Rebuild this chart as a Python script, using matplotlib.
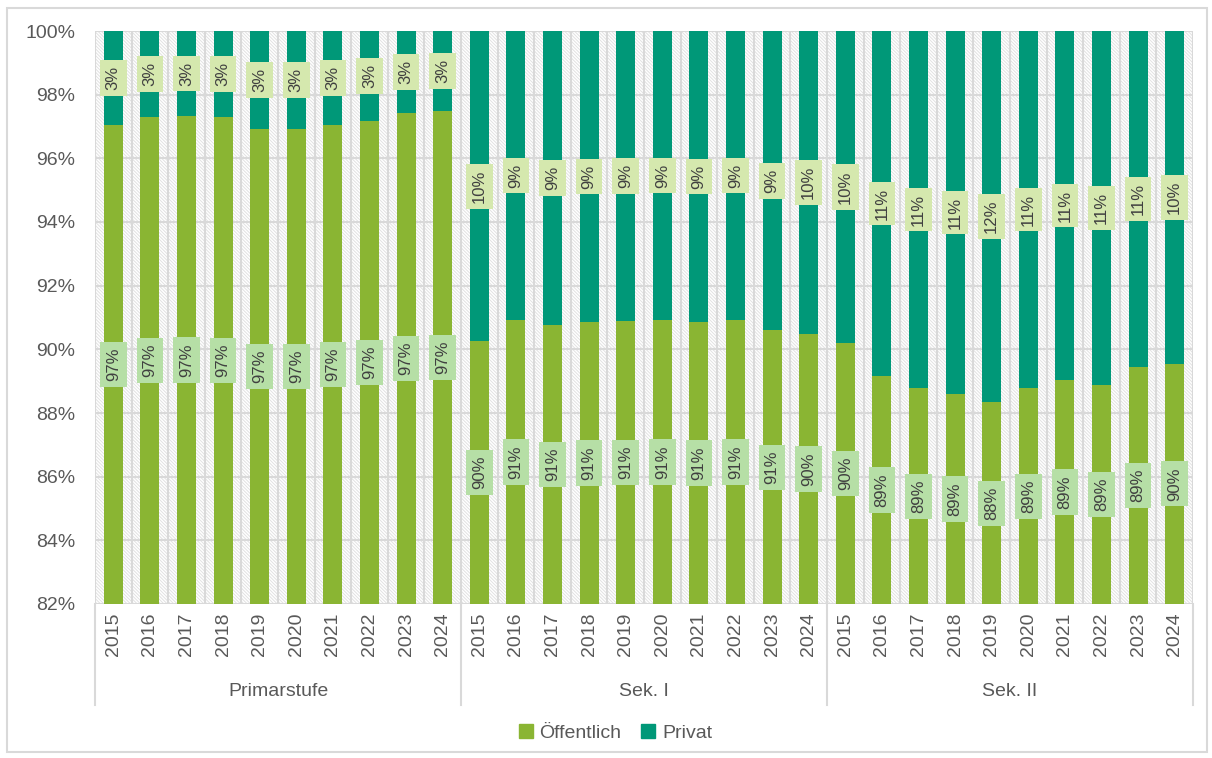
import numpy as np
import matplotlib.pyplot as plt
from matplotlib.patches import Rectangle
from matplotlib.lines import Line2D

plt.rcParams['font.family'] = ['Liberation Sans', 'DejaVu Sans']
plt.rcParams['hatch.linewidth'] = 0.7

# data (share in %)
groups = ["Primarstufe", "Sek. I", "Sek. II"]
years = [2015, 2016, 2017, 2018, 2019, 2020, 2021, 2022, 2023, 2024]
oeff_primar = [97.05, 97.3, 97.33, 97.3, 96.92, 96.92, 97.05, 97.17, 97.42, 97.49]
oeff_sek1 = [90.26, 90.92, 90.76, 90.86, 90.89, 90.92, 90.86, 90.92, 90.6, 90.48]
oeff_sek2 = [90.2, 89.16, 88.78, 88.6, 88.34, 88.78, 89.04, 88.88, 89.44, 89.55]

c_oeff = '#8ab533'
c_priv = '#009878'
c_oeff_lbl = '#b6dfa6'
c_priv_lbl = '#d5e8ae'
grid_c = '#d9d9d9'
txt_c = '#595959'

ymin, ymax = 82, 100

oeff = np.array(oeff_primar + oeff_sek1 + oeff_sek2)
priv = 100 - oeff
n = len(oeff)
x = np.arange(n)

fig = plt.figure(figsize=(12.12, 7.58), dpi=100)
ax = fig.add_axes([95/1212, 1-604/758, 1098/1212, 573/758])

# hatched background
bg = Rectangle((0, 0), 1, 1, transform=ax.transAxes, facecolor='white',
               edgecolor='#e2e2e2', hatch='\\' * 10, linewidth=0, zorder=0)
ax.add_patch(bg)

ax.set_xlim(-0.5, n - 0.5)
ax.set_ylim(ymin, ymax)

# gridlines
ax.vlines(np.arange(-0.5, n), ymin, ymax, color=grid_c, lw=1.5, zorder=1)
ax.hlines(np.arange(ymin, ymax + 0.1, 2), -0.5, n - 0.5, color=grid_c, lw=1.5, zorder=1)

w = 0.52
ax.bar(x, oeff - ymin, bottom=ymin, width=w, color=c_oeff, zorder=3, label='Öffentlich')
ax.bar(x, priv, bottom=oeff, width=w, color=c_priv, zorder=3, label='Privat')

# data labels, centred in the visible part of each segment
for i in range(n):
    ax.text(x[i], (ymin + oeff[i]) / 2, f"{oeff[i]:.0f}%", rotation=90,
            ha='center', va='center', fontsize=12, color='#404040', zorder=5,
            bbox=dict(boxstyle='square,pad=0.35', fc=c_oeff_lbl, ec='none'))
    ax.text(x[i], (oeff[i] + ymax) / 2, f"{priv[i]:.0f}%", rotation=90,
            ha='center', va='center', fontsize=12, color='#404040', zorder=5,
            bbox=dict(boxstyle='square,pad=0.35', fc=c_priv_lbl, ec='none'))

for s in ax.spines.values():
    s.set_visible(False)

ax.set_yticks(np.arange(ymin, ymax + 0.1, 2))
ax.set_yticklabels([f"{v}%" for v in range(ymin, ymax + 1, 2)])
ax.tick_params(axis='y', length=0, pad=14, labelsize=14, labelcolor=txt_c)

ax.set_xticks(x)
ax.set_xticklabels([str(y) for y in years] * len(groups), rotation=90)
ax.tick_params(axis='x', length=0, pad=6, labelsize=14, labelcolor=txt_c)

# multi-level category axis
tr = ax.get_xaxis_transform()
for k, g in enumerate(groups):
    ax.text(k * 10 + 4.5, -0.152, g, transform=tr, ha='center', va='center',
            fontsize=14, color=txt_c)
for xs in [-0.5, 9.5, 19.5, 29.5]:
    ax.add_line(Line2D([xs, xs], [0, -0.176], transform=tr, color=grid_c,
                       lw=1.5, clip_on=False))

handles = [Line2D([], [], marker='s', ls='none', color=c_oeff, markersize=10),
           Line2D([], [], marker='s', ls='none', color=c_priv, markersize=10)]
fig.legend(handles, ['Öffentlich', 'Privat'], loc='center', ncol=2,
           bbox_to_anchor=(615/1212, 1-733/758), frameon=False, fontsize=14,
           handlelength=0.8, handletextpad=0.3, columnspacing=1.0,
           labelcolor=txt_c)

# outer border
fig.add_artist(Rectangle((7/1212, 6/758), 1200/1212, 744/758,
                         transform=fig.transFigure, fill=False,
                         edgecolor=grid_c, lw=1.5))

fig.savefig('out.png', dpi=100)
